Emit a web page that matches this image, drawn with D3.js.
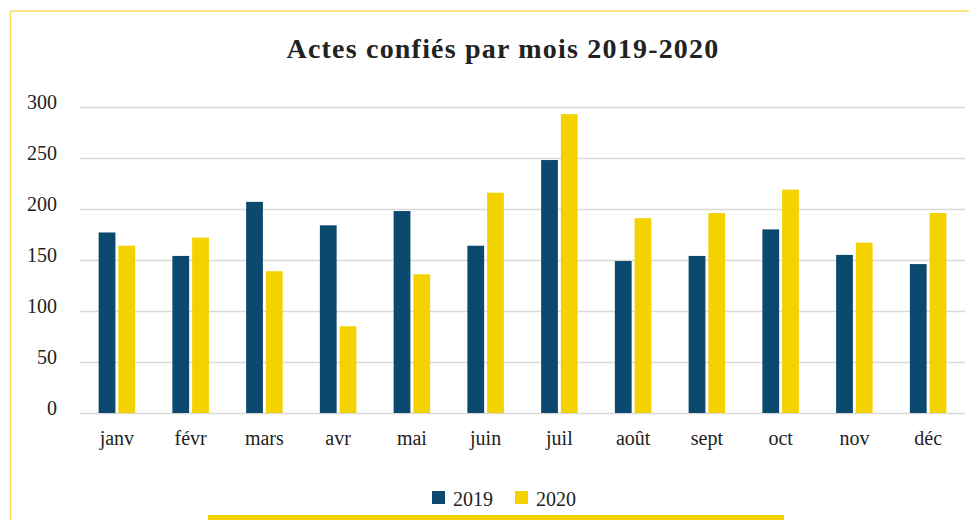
<!DOCTYPE html>
<meta charset="utf-8">
<style>
body { margin: 0; background: #fff; }
svg text { font-family: "Liberation Serif", "DejaVu Serif", serif; fill: #222; }
.title { font-size: 28px; font-weight: bold; letter-spacing: 1.2px; }
.axis text { font-size: 20px; font-family: "Liberation Serif", serif; }
.axis--y line { stroke: #d9d9d9; stroke-width: 1.5px; }
.axis path { display: none; }
.legend text { font-size: 20px; }
</style>
<body>
<svg id="svg" width="969" height="520"></svg>
<script src="https://cdnjs.cloudflare.com/ajax/libs/d3/7.8.5/d3.min.js"></script>
<script>

var months = ["janv", "févr", "mars", "avr", "mai", "juin", "juil", "août", "sept", "oct", "nov", "déc"];
var series = ["2019", "2020"];
var v2019 = [177, 154, 207, 184, 198, 164, 248, 149, 154, 180, 155, 146];
var v2020 = [164, 172, 139, 85, 136, 216, 293, 191, 196, 219, 167, 196];
var yTicks = [0, 50, 100, 150, 200, 250, 300];
var colors = ["#0b4a6e", "#f4d200"];

var data = months.map(function(m, i) {
  return {month: m, values: [v2019[i], v2020[i]]};
});

var svg = d3.select("svg"),
    margin = {top: 107, right: 4, bottom: 107, left: 80},
    width = +svg.attr("width") - margin.left - margin.right,
    height = +svg.attr("height") - margin.top - margin.bottom;

// yellow frame
svg.append("line")
    .attr("x1", 10.5).attr("y1", 11).attr("x2", 969).attr("y2", 11)
    .attr("stroke", "#f7dc5a").attr("stroke-width", 1.5);
svg.append("line")
    .attr("x1", 10.5).attr("y1", 11).attr("x2", 10.5).attr("y2", 520)
    .attr("stroke", "#f7dc5a").attr("stroke-width", 1.5);
svg.append("rect")
    .attr("x", 208).attr("y", 515).attr("width", 576).attr("height", 10)
    .attr("fill", "#f4d200");

svg.append("text")
    .attr("class", "title")
    .attr("x", 503)
    .attr("y", 58)
    .attr("text-anchor", "middle")
    .text("Actes confiés par mois 2019-2020");

var g = svg.append("g").attr("transform", "translate(" + margin.left + "," + margin.top + ")");

var x0 = d3.scaleBand().domain(months).range([0, width]).paddingInner(0.505).paddingOuter(0.2525);
var x1 = d3.scaleBand().domain(series).range([0, x0.bandwidth()]).paddingInner(0.15);
var y = d3.scaleLinear().domain([0, 300]).range([height, 0]);

g.append("g")
    .attr("class", "axis axis--y")
    .call(d3.axisLeft(y).tickValues(yTicks).tickSize(-width).tickPadding(23))
  .selectAll("text")
    .attr("dy", "0.05em");

g.append("g")
    .attr("class", "axis axis--x")
    .attr("transform", "translate(0," + height + ")")
    .call(d3.axisBottom(x0).tickSize(0).tickPadding(18));

var month = g.selectAll(".month")
  .data(data)
  .enter().append("g")
    .attr("class", "month")
    .attr("transform", function(d) { return "translate(" + x0(d.month) + ",0)"; });

month.selectAll("rect")
  .data(function(d) { return d.values.map(function(v, i) { return {key: series[i], value: v}; }); })
  .enter().append("rect")
    .attr("x", function(d) { return x1(d.key); })
    .attr("y", function(d) { return y(d.value); })
    .attr("width", x1.bandwidth())
    .attr("height", function(d) { return height - y(d.value); })
    .attr("fill", function(d, i) { return colors[i]; });

var legend = svg.append("g").attr("class", "legend");
var item = legend.selectAll("g")
  .data(series)
  .enter().append("g")
    .attr("transform", function(d, i) { return "translate(" + (432 + i * 83) + ",491)"; });
item.append("rect")
    .attr("width", 13).attr("height", 13)
    .attr("fill", function(d, i) { return colors[i]; });
item.append("text")
    .attr("x", 21).attr("y", 8)
    .attr("dy", "0.35em")
    .text(function(d) { return d; });

</script>
</body>
